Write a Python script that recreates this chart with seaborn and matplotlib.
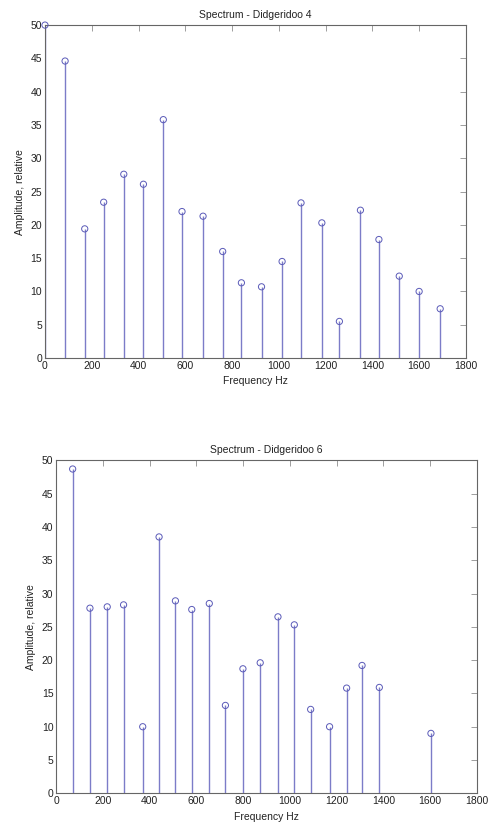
import numpy as np
import matplotlib
matplotlib.use("Agg")
import matplotlib.pyplot as plt
import seaborn as sns

# Didgeridoo 4 spectrum
freq4 = [0, 86, 170, 251, 337, 421, 506, 586, 676, 760, 840, 926, 1014, 1095,
         1184, 1259, 1349, 1428, 1515, 1600, 1690]
amp4 = [50.0, 44.6, 19.4, 23.4, 27.6, 26.1, 35.8, 22.0, 21.3, 16.0, 11.3, 10.7,
        14.5, 23.3, 20.3, 5.5, 22.2, 17.8, 12.3, 10.0, 7.4]

# Didgeridoo 6 spectrum
freq6 = [70, 144, 218, 288, 370, 440, 510, 580, 655, 724, 799, 873, 949, 1019,
         1089, 1170, 1243, 1309, 1383, 1604]
amp6 = [48.7, 27.8, 28.0, 28.3, 10.0, 38.5, 28.9, 27.6, 28.5, 13.2, 18.7, 19.6,
        26.5, 25.3, 12.6, 10.0, 15.8, 19.2, 15.9, 9.0]

titles = ["Spectrum - Didgeridoo 4", "Spectrum - Didgeridoo 6"]
xticks = [0, 200, 400, 600, 800, 1000, 1200, 1400, 1600, 1800]
yticks = [0, 5, 10, 15, 20, 25, 30, 35, 40, 45, 50]

sns.set_style("white")
plt.rcParams['font.family'] = ['Liberation Sans', 'DejaVu Sans']

stem_col = "#7c7cc8"
mark_col = "#5a5ab8"

fig = plt.figure(figsize=(4.9, 8.25), dpi=100)
ax1 = fig.add_axes([0.0918, 0.566, 0.859, 0.4036])
ax2 = fig.add_axes([0.1149, 0.0384, 0.858, 0.4036])

for ax, f, a, t in [(ax1, freq4, amp4, titles[0]), (ax2, freq6, amp6, titles[1])]:
    ax.vlines(f, 0, a, color=stem_col, lw=1.0)
    sns.scatterplot(x=f, y=a, ax=ax, marker="o", s=20, facecolor="none",
                    edgecolor=mark_col, linewidth=0.7, zorder=3, clip_on=False)
    ax.set_xlim(0, 1800)
    ax.set_ylim(0, 50)
    ax.set_xticks(xticks)
    ax.set_yticks(yticks)
    ax.tick_params(direction="in", length=4, width=0.5, colors="#777777",
                   labelcolor="#222222", labelsize=7.5, top=True, right=True, pad=2)
    for sp in ax.spines.values():
        sp.set_color("#666666")
        sp.set_linewidth(0.8)
    ax.set_title(t, fontsize=7.5, color="#222222", pad=5)
    ax.set_xlabel("Frequency Hz", fontsize=7.5, color="#222222", labelpad=4)
    ax.set_ylabel("Amplitude, relative", fontsize=7.5, color="#222222", labelpad=4)

fig.savefig("out.png", dpi=100)
